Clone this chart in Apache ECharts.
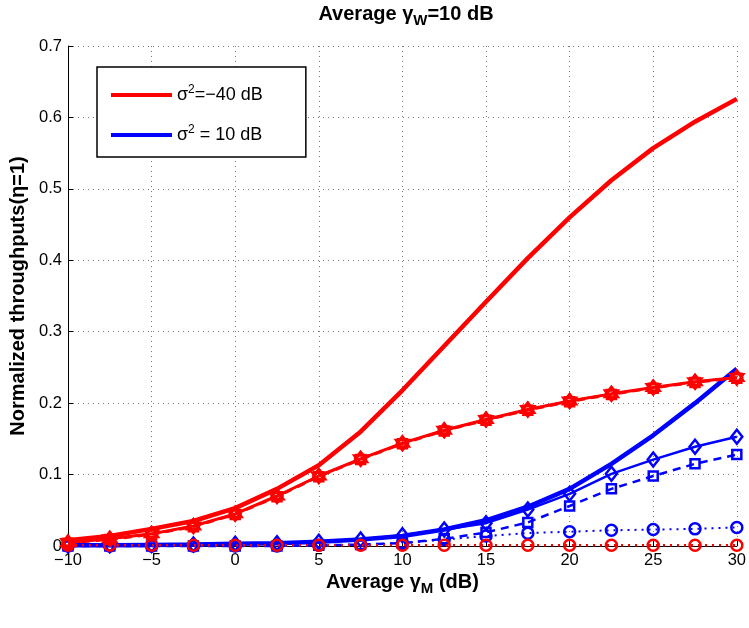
<!DOCTYPE html>
<html>
<head>
<meta charset="utf-8">
<script src="https://cdn.jsdelivr.net/npm/echarts@6/dist/echarts.min.js"></script>
<style>
html,body{margin:0;padding:0;background:#fff;}
#c{width:749px;height:628px;}
</style>
</head>
<body>
<div id="c"></div>
<script>
// x-axis values (Average gamma_M in dB)
var xs = [-10,-7.5,-5,-2.5,0,2.5,5,7.5,10,12.5,15,17.5,20,22.5,25,27.5,30];
var xTicks = [-10,-5,0,5,10,15,20,25,30];
var yTicks = [0,0.1,0.2,0.3,0.4,0.5,0.6,0.7];

// sigma^2 = -40 dB (red)
var redThick   = [0.008,0.014,0.024,0.035,0.053,0.080,0.113,0.160,0.218,0.280,0.342,0.403,0.460,0.512,0.557,0.594,0.626];
var redDiamond = [0.005,0.010,0.017,0.028,0.045,0.070,0.098,0.122,0.144,0.162,0.177,0.191,0.203,0.213,0.222,0.230,0.236];
var redSquare  = [0.004,0.009,0.016,0.027,0.044,0.069,0.097,0.121,0.143,0.161,0.176,0.190,0.202,0.212,0.221,0.229,0.235];
var redCircle  = [0.001,0.001,0.001,0.001,0.001,0.001,0.001,0.001,0.001,0.001,0.001,0.001,0.001,0.001,0.001,0.001,0.001];

// sigma^2 = 10 dB (blue)
var blueThick   = [0.001,0.001,0.0015,0.002,0.003,0.004,0.006,0.009,0.014,0.023,0.036,0.055,0.080,0.115,0.155,0.200,0.248];
var blueDiamond = [0.001,0.001,0.0015,0.002,0.003,0.004,0.006,0.009,0.015,0.023,0.032,0.051,0.073,0.101,0.121,0.139,0.153];
var blueSquare  = [0,0,0,0,0,0,0.001,0.002,0.004,0.010,0.019,0.033,0.056,0.080,0.098,0.115,0.128];
var blueCircle  = [0,0,0,0,0,0,0.001,0.002,0.004,0.009,0.014,0.018,0.020,0.022,0.023,0.024,0.026];

var RED = '#ff0000', BLUE = '#0000ff';
var HEX = 'path://M0,-10 L8.66,5 L-8.66,5 Z M0,10 L8.66,-5 L-8.66,-5 Z';
function pts(ys){ return xs.map(function(x,i){ return [x, ys[i]]; }); }
function mk(name, ys, color, width, type, symbol, size, z){
  return {
    name: name, type: 'line', data: pts(ys), z: z,
    lineStyle: {color: color, width: width, type: type},
    symbol: symbol || 'none', symbolSize: size || 10, showSymbol: !!symbol,
    itemStyle: symbol ? {color: 'rgba(255,255,255,0)', borderColor: color, borderWidth: 2.5}
                      : {color: color},
    emphasis: {disabled: true}, animation: false, clip: false
  };
}
var FONT = '"Liberation Sans", Arial, sans-serif';
var chart = echarts.init(document.getElementById('c'), null, {renderer: 'canvas'});
chart.setOption({
  animation: false,
  backgroundColor: '#fff',
  textStyle: {fontFamily: FONT},
  title: {
    text: '{t|Average \u03b3}{s|W}{t|=10 dB}',
    left: 406, textAlign: 'center', top: 1, padding: 0,
    textStyle: {rich: {
      t: {fontFamily: FONT, fontSize: 20, fontWeight: 'bold', color: '#000', lineHeight: 26},
      s: {fontFamily: FONT, fontSize: 15, fontWeight: 'bold', color: '#000', padding: [14,0,0,0], lineHeight: 26}
    }}
  },
  grid: {left: 68, right: 10, top: 46, bottom: 82, containLabel: false},
  legend: {
    orient: 'vertical', left: 97, top: 67,
    data: [{name: 'red', icon: 'rect'}, {name: 'blue', icon: 'rect'}],
    backgroundColor: '#fff', borderColor: '#000', borderWidth: 1.5,
    padding: [17, 43, 11, 14], itemGap: 18,
    itemWidth: 61, itemHeight: 4,
    formatter: function(n){
      return n === 'red' ? '{a|\u03c3}{p|2}{a|=\u221240 dB}' : '{a|\u03c3}{p|2}{a| = 10 dB}';
    },
    textStyle: {rich: {
      a: {fontFamily: FONT, fontSize: 18, color: '#000', lineHeight: 24},
      p: {fontFamily: FONT, fontSize: 12, color: '#000', lineHeight: 24, padding: [0,0,10,0]}
    }}
  },
  xAxis: {
    type: 'value', min: -10, max: 30, interval: 5,
    name: '{t|Average \u03b3}{s|M}{t| (dB)}', nameLocation: 'middle', nameGap: 24,
    nameMoveOverlap: false,
    nameTextStyle: {rich: {
      t: {fontFamily: FONT, fontSize: 20, fontWeight: 'bold', color: '#000', lineHeight: 24},
      s: {fontFamily: FONT, fontSize: 15, fontWeight: 'bold', color: '#000', padding: [14,0,0,0], lineHeight: 24}
    }},
    axisLine: {show: true, onZero: false, lineStyle: {color: '#000', width: 1}},
    axisTick: {show: true, inside: true, length: 5, lineStyle: {color: '#000'}},
    axisLabel: {
      fontFamily: FONT, fontSize: 16.5, color: '#000', margin: 6,
      formatter: function(v){ return xTicks.indexOf(v) < 0 ? '' : (v < 0 ? '\u2212' + Math.abs(v) : String(v)); }
    },
    splitLine: {show: true, lineStyle: {color: '#777', type: [1, 4], width: 1}}
  },
  yAxis: {
    type: 'value', min: 0, max: 0.7, interval: 0.1,
    name: 'Normalized throughputs(\u03b7=1)', nameLocation: 'middle', nameGap: 40,
    nameMoveOverlap: false,
    nameTextStyle: {fontFamily: FONT, fontSize: 20, fontWeight: 'bold', color: '#000'},
    axisLine: {show: true, onZero: false, lineStyle: {color: '#000', width: 1}},
    axisTick: {show: true, inside: true, length: 5, lineStyle: {color: '#000'}},
    axisLabel: {
      fontFamily: FONT, fontSize: 16.5, color: '#000', margin: 6,
      formatter: function(v){
        var r = Math.round(v * 10) / 10;
        return yTicks.indexOf(r) < 0 ? '' : (r === 0 ? '0' : r.toFixed(1));
      }
    },
    splitLine: {show: true, lineStyle: {color: '#777', type: [1, 4], width: 1}}
  },
  series: [
    mk('blue', blueThick, BLUE, 4.5, 'solid', null, 0, 2),
    mk('blueDiamond', blueDiamond, BLUE, 2.5, 'solid', 'diamond', [11, 14], 3),
    mk('blueSquare', blueSquare, BLUE, 2.5, [8, 6], 'rect', 9, 3),
    mk('blueCircle', blueCircle, BLUE, 2, [2, 5], 'circle', 11, 3),
    mk('red', redThick, RED, 4.5, 'solid', null, 0, 4),
    mk('redDiamond', redDiamond, RED, 3, 'solid', 'diamond', [11, 14], 5),
    mk('redStar', redDiamond, RED, 2, 'solid', HEX, 13, 5),
    mk('redSquare', redSquare, RED, 2.5, [8, 6], 'rect', 9, 5),
    mk('redCircle', redCircle, RED, 2.5, [2, 5], 'circle', 11, 6)
  ]
});
</script>
</body>
</html>
